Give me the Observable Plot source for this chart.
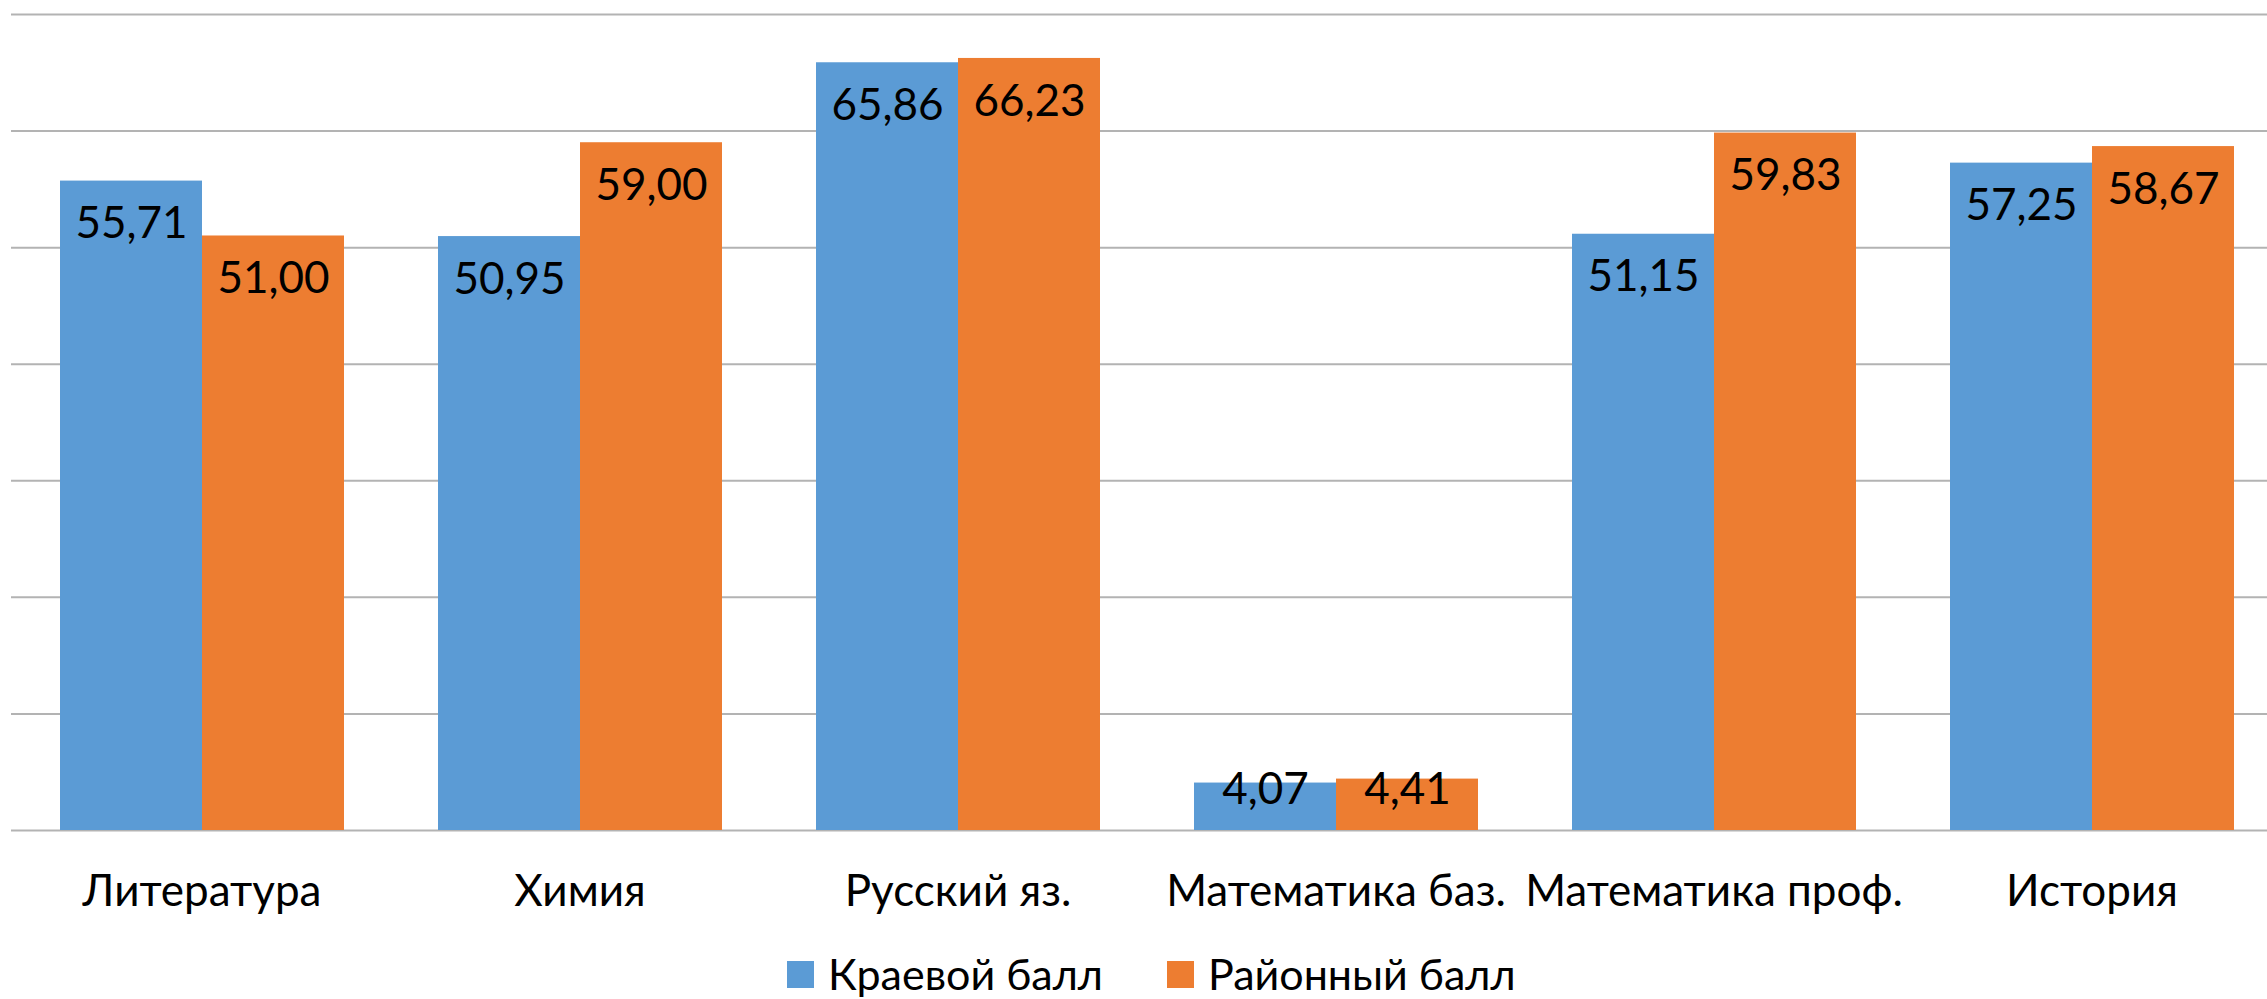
<!DOCTYPE html>
<html><head><meta charset="utf-8">
<script src="https://cdn.jsdelivr.net/npm/d3@7"></script>
<script src="https://cdn.jsdelivr.net/npm/@observablehq/plot@0.6"></script>
<style>
body{margin:0;background:#fff;font-family:Lato,"Open Sans",sans-serif;overflow:hidden;}
#wrap{position:relative;width:2267px;height:999px;overflow:hidden;}
#grid,#chart{position:absolute;left:0;top:0;}
.item{position:absolute;top:954px;height:40px;display:flex;align-items:center;}
.sw{width:27px;height:27px;margin-right:14px;}
.lt{font-size:43px;line-height:40px;color:#000;white-space:nowrap;}
</style></head>
<body><div id="wrap"><div id="grid"></div><div id="chart"></div><div id="legend"></div></div>
<script>
const categories = ["Литература","Химия","Русский яз.","Математика баз.","Математика проф.","История"];
const series = ["Краевой балл","Районный балл"];
const kraevoy = [55.71, 50.95, 65.86, 4.07, 51.15, 57.25];
const rayonny = [51.00, 59.00, 66.23, 4.41, 59.83, 58.67];
const yTicks = [0,10,20,30,40,50,60,70];
const colors = ["#5B9BD5","#ED7D31"];

const data = [];
categories.forEach((c,i)=>{
  data.push({category:c, series:series[0], value:kraevoy[i]});
  data.push({category:c, series:series[1], value:rayonny[i]});
});
const fmt = v => v.toFixed(2).replace(".", ",");

const common = {
  width: 2267, height: 935,
  marginLeft: 11, marginTop: 14, marginBottom: 105,
  style: {fontFamily: "Lato, 'Open Sans', sans-serif", background: "transparent", overflow: "visible"},
  y: {domain: [0,70], axis: null}
};

// gridlines layer (full width, behind bars)
const grid = Plot.plot({
  ...common,
  marginRight: 0,
  marks: [
    Plot.ruleY(yTicks, {y: d=>d, stroke: "#b3b3b3", strokeWidth: 2})
  ]
});
document.getElementById("grid").appendChild(grid);

// bars layer (plot area runs slightly past the right edge, as in the source)
const chart = Plot.plot({
  ...common,
  marginRight: -16,
  fx: {domain: categories, paddingInner: 0.246, paddingOuter: 0.123, label: null},
  x: {domain: series, padding: 0, axis: null},
  color: {domain: series, range: colors},
  marks: [
    Plot.barY(data, {x: "series", y: "value", fill: "series", fx: "category"}),
    Plot.text(data.filter(d=>d.value>10), {x: "series", y: "value", fx: "category", text: d=>fmt(d.value), dy: 43, fontSize: 44, fill: "#000", lineAnchor: "middle"}),
    Plot.text(data.filter(d=>d.value<=10), {x: "series", y: d=>0, fx: "category", text: d=>fmt(d.value), dy: -41, fontSize: 44, fill: "#000", lineAnchor: "middle"}),
    Plot.axisFx({anchor: "bottom", tickSize: 0, tickPadding: 44, fontSize: 44, label: null, fill: "#000"})
  ]
});
document.getElementById("chart").appendChild(chart);

const lg = document.getElementById("legend");
const legendLeft = [787, 1167];
series.forEach((s,i)=>{
  const it = document.createElement("div"); it.className="item"; it.style.left = legendLeft[i]+"px";
  const sw = document.createElement("div"); sw.className="sw"; sw.style.background=colors[i];
  const t = document.createElement("span"); t.className="lt"; t.textContent=s;
  it.appendChild(sw); it.appendChild(t); lg.appendChild(it);
});
</script></body></html>
